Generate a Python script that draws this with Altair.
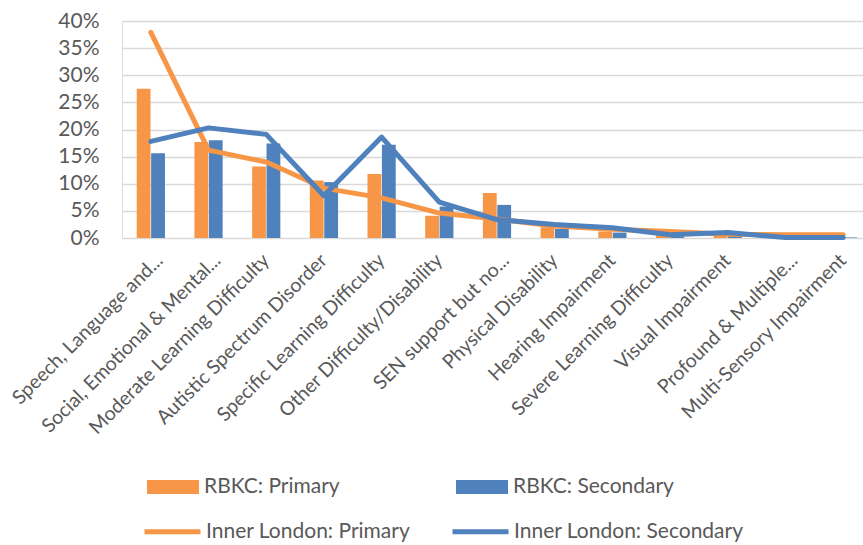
import altair as alt
import pandas as pd

categories = [
    "Speech, Language and...",
    "Social, Emotional & Mental...",
    "Moderate Learning Difficulty",
    "Autistic Spectrum Disorder",
    "Specific Learning Difficulty",
    "Other Difficulty/Disability",
    "SEN support but no...",
    "Physical Disability",
    "Hearing Impairment",
    "Severe Learning Difficulty",
    "Visual Impairment",
    "Profound & Multiple...",
    "Multi-Sensory Impairment",
]
rbkc_primary = [0.275, 0.177, 0.132, 0.106, 0.118, 0.041, 0.083, 0.020, 0.012, 0.005, 0.008, 0.009, 0.006]
rbkc_secondary = [0.156, 0.180, 0.174, 0.103, 0.172, 0.058, 0.061, 0.017, 0.010, 0.003, 0.006, 0.009, 0.001]
inner_primary = [0.379, 0.162, 0.140, 0.092, 0.074, 0.046, 0.035, 0.022, 0.016, 0.012, 0.007, 0.006, 0.006]
inner_secondary = [0.178, 0.203, 0.191, 0.078, 0.186, 0.066, 0.034, 0.025, 0.019, 0.006, 0.010, 0.001, 0.001]

bar_series = ["RBKC: Primary", "RBKC: Secondary"]
line_series = ["Inner London: Primary", "Inner London: Secondary"]
ORANGE = "#F79646"
BLUE = "#4F81BD"
FONT = "Lato"
TXT = "#595959"
FS = 21

bars = pd.DataFrame(
    [{"cat": c, "series": bar_series[0], "value": v} for c, v in zip(categories, rbkc_primary)]
    + [{"cat": c, "series": bar_series[1], "value": v} for c, v in zip(categories, rbkc_secondary)]
)
lp = pd.DataFrame({"cat": categories, "series": line_series[0], "value": inner_primary})
ls = pd.DataFrame({"cat": categories, "series": line_series[1], "value": inner_secondary})

xenc = alt.X(
    "cat:N",
    sort=categories,
    title=None,
    scale=alt.Scale(paddingInner=0, paddingOuter=0, range=[0, 750]),
    axis=alt.Axis(
        labelAngle=-45,
        labelAlign="right",
        labelBaseline="middle",
        labelFont=FONT,
        labelFontSize=19.5,
        labelColor=TXT,
        labelPadding=19,
        labelOffset={"condition": {"test": "indexof(datum.label, '...') >= 0", "value": 9}, "value": 0},
        ticks=False,
        domain=False,
        labelLimit=400,
        labelOverlap=False,
    ),
)
yenc = alt.Y(
    "value:Q",
    title=None,
    scale=alt.Scale(domain=[0, 0.4], nice=False),
    axis=alt.Axis(
        values=[0, 0.05, 0.1, 0.15, 0.2, 0.25, 0.3, 0.35, 0.4],
        format=".0%",
        labelFont=FONT,
        labelFontSize=FS,
        labelColor=TXT,
        labelPadding=23,
        ticks=False,
        domain=False,
        grid=True,
        gridColor="#D9D9D9",
        gridWidth=1.4,
    ),
)

bar_layer = alt.Chart(bars).mark_bar(width=13.8).encode(
    x=xenc,
    y=yenc,
    xOffset=alt.XOffset("series:N", sort=bar_series, scale=alt.Scale(paddingOuter=1, paddingInner=0)),
    color=alt.Color(
        "series:N",
        scale=alt.Scale(domain=bar_series, range=[ORANGE, BLUE]),
        legend=alt.Legend(
            title=None,
            orient="none",
            legendX=25,
            legendY=440,
            direction="horizontal",
            columns=2,
            columnPadding=116,
            symbolType="M-1,-0.27L1,-0.27L1,0.27L-1,0.27Z",
            symbolSize=2704,
            symbolStrokeWidth=0,
            labelOffset=5,
            labelFont=FONT,
            labelFontSize=FS,
            labelColor=TXT,
            labelLimit=400,
            padding=0,
        ),
    ),
)

stroke_scale = alt.Scale(domain=line_series, range=[ORANGE, BLUE])
stroke_legend = alt.Legend(
    title=None,
    orient="none",
    legendX=20,
    legendY=480,
    direction="horizontal",
    columns=2,
    columnPadding=31,
    symbolType="stroke",
    symbolSize=3136,
    symbolStrokeWidth=5,
    labelOffset=3,
    labelFont=FONT,
    labelFontSize=FS,
    labelColor=TXT,
    labelLimit=400,
    padding=0,
)

line_p = alt.Chart(lp).mark_line(strokeWidth=5, strokeCap="round", strokeJoin="round").encode(
    x=xenc, y=yenc, stroke=alt.Stroke("series:N", scale=stroke_scale, legend=stroke_legend)
)
line_s = alt.Chart(ls).mark_line(strokeWidth=5, strokeCap="round", strokeJoin="round").encode(
    x=xenc, y=yenc, stroke=alt.Stroke("series:N", scale=stroke_scale, legend=stroke_legend)
)

chart = (
    alt.layer(bar_layer, line_p, line_s)
    .properties(
        width=741,
        height=217,
        autosize=alt.AutoSizeParams(type="none"),
        padding={"left": 122, "top": 21, "right": 0, "bottom": 307},
    )
    .configure_view(stroke=None)
    .configure(background="white")
)

chart.save("out.html", embed_options={"renderer": "svg", "actions": False})
